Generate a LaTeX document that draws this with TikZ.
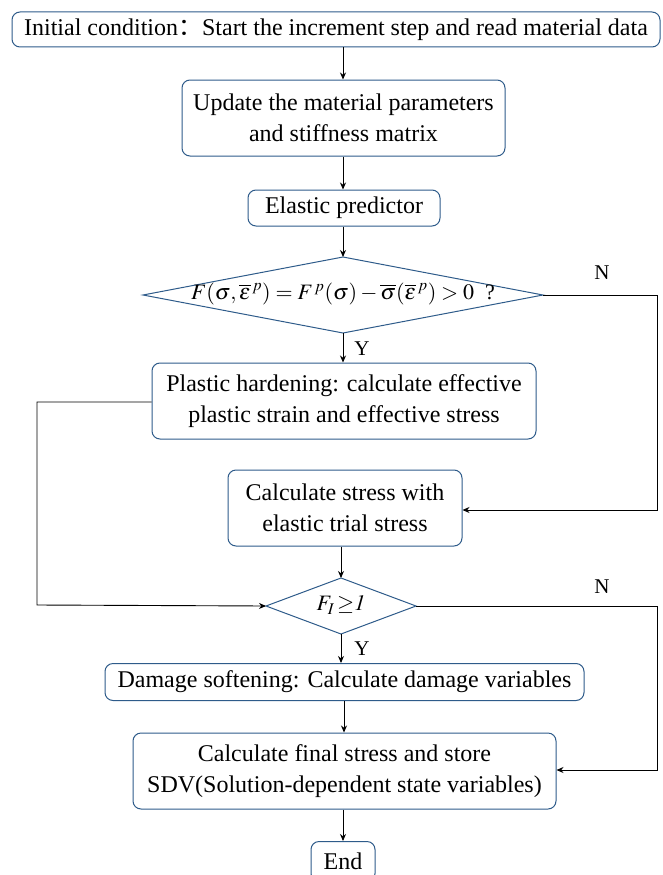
\documentclass[tikz,border=0pt]{standalone}
\usepackage{mathptmx}
\usepackage[no-math]{fontspec}
\setmainfont{Liberation Serif}
\newfontfamily\cjk{Noto Sans CJK SC}
\usetikzlibrary{arrows.meta,shapes.geometric}
\definecolor{edgeblue}{HTML}{2E5B8A}
\begin{document}
\begin{tikzpicture}[x=1pt,y=-1pt,
  box/.style={draw=edgeblue,line width=1pt,rounded corners=8pt,align=center,inner sep=0pt,font=\fontsize{24}{31}\selectfont},
  arr/.style={-{Stealth[length=7pt,width=6pt]},line width=0.9pt},
  lbl/.style={font=\fontsize{21}{25}\selectfont,inner sep=0pt}]
\useasboundingbox (0,0) rectangle (662,875);
\node[box,minimum width=648pt,minimum height=35pt] (init) at (336,29.5) {Initial condition{\cjk：}Start the increment step and read material data};
\node[box,minimum width=323pt,minimum height=76pt] (upd) at (343.5,118) {Update the material parameters\\and stiffness matrix};
\node[box,minimum width=192pt,minimum height=36pt] (ela) at (344,208) {Elastic predictor};
\coordinate (d1t) at (343,257);
\coordinate (d1b) at (343,333);
\coordinate (d1l) at (143,295);
\coordinate (d1r) at (543,295);
\path[draw=edgeblue,line width=1pt] (d1l) -- (d1t) -- (d1r) -- (d1b) -- cycle;
\node[lbl,font=\fontsize{22}{25}\selectfont] (f1) at (343,294) {$F(\sigma,\overline{\varepsilon}^{\,p}) = F^{\,p}(\sigma) - \overline{\sigma}(\overline{\varepsilon}^{\,p}) > 0$\ \ ?};
\node[box,minimum width=384pt,minimum height=76pt] (pla) at (344,401) {Plastic hardening: calculate effective\\plastic strain and effective stress};
\node[box,minimum width=234pt,minimum height=76pt] (cal) at (345,508) {Calculate stress with\\elastic trial stress};
\coordinate (d2t) at (341,578);
\coordinate (d2b) at (341,634);
\coordinate (d2l) at (266,606);
\coordinate (d2r) at (416,606);
\path[draw=edgeblue,line width=1pt] (d2l) -- (d2t) -- (d2r) -- (d2b) -- cycle;
\node[lbl,font=\fontsize{22}{25}\selectfont] (f2) at (341,605) {$F_{I}\,{\geq}\mathit{1}$};
\node[box,minimum width=479pt,minimum height=37pt] (dam) at (344.5,682) {Damage softening: Calculate damage variables};
\node[box,minimum width=423pt,minimum height=76pt] (fin) at (344.5,771) {Calculate final stress and store\\SDV(Solution-dependent state variables)};
\node[box,minimum width=64pt,minimum height=40pt,anchor=north] (end) at (343,841) {End};
% connectors
\draw[arr] (init.south -| 343,0) -- (upd.north -| 343,0);
\draw[arr] (upd.south -| 343,0) -- (ela.north -| 343,0);
\draw[arr] (ela.south -| 343,0) -- (d1t);
\draw[arr] (d1b) -- (pla.north -| 343,0);
\node[lbl] (y1) at (362,349) {Y};
\draw[arr] (d1r) -- (657,295) -- (657,510) -- (cal.east |- 0,510);
\node[lbl] (n1) at (602,273) {N};
\draw[arr] (pla.west |- 0,402) -- (37,402) -- (37,605) -- (d2l);
\draw[arr] (cal.south -| 341,0) -- (d2t);
\draw[arr] (d2b) -- (dam.north -| 341,0);
\node[lbl] (y2) at (362,649) {Y};
\draw[arr] (d2r) -- (657,606) -- (657,770) -- (fin.east |- 0,770);
\node[lbl] (n2) at (602,587) {N};
\draw[arr] (dam.south -| 344,0) -- (fin.north -| 344,0);
\draw[arr] (fin.south -| 343,0) -- (end.north);
\end{tikzpicture}
\end{document}
